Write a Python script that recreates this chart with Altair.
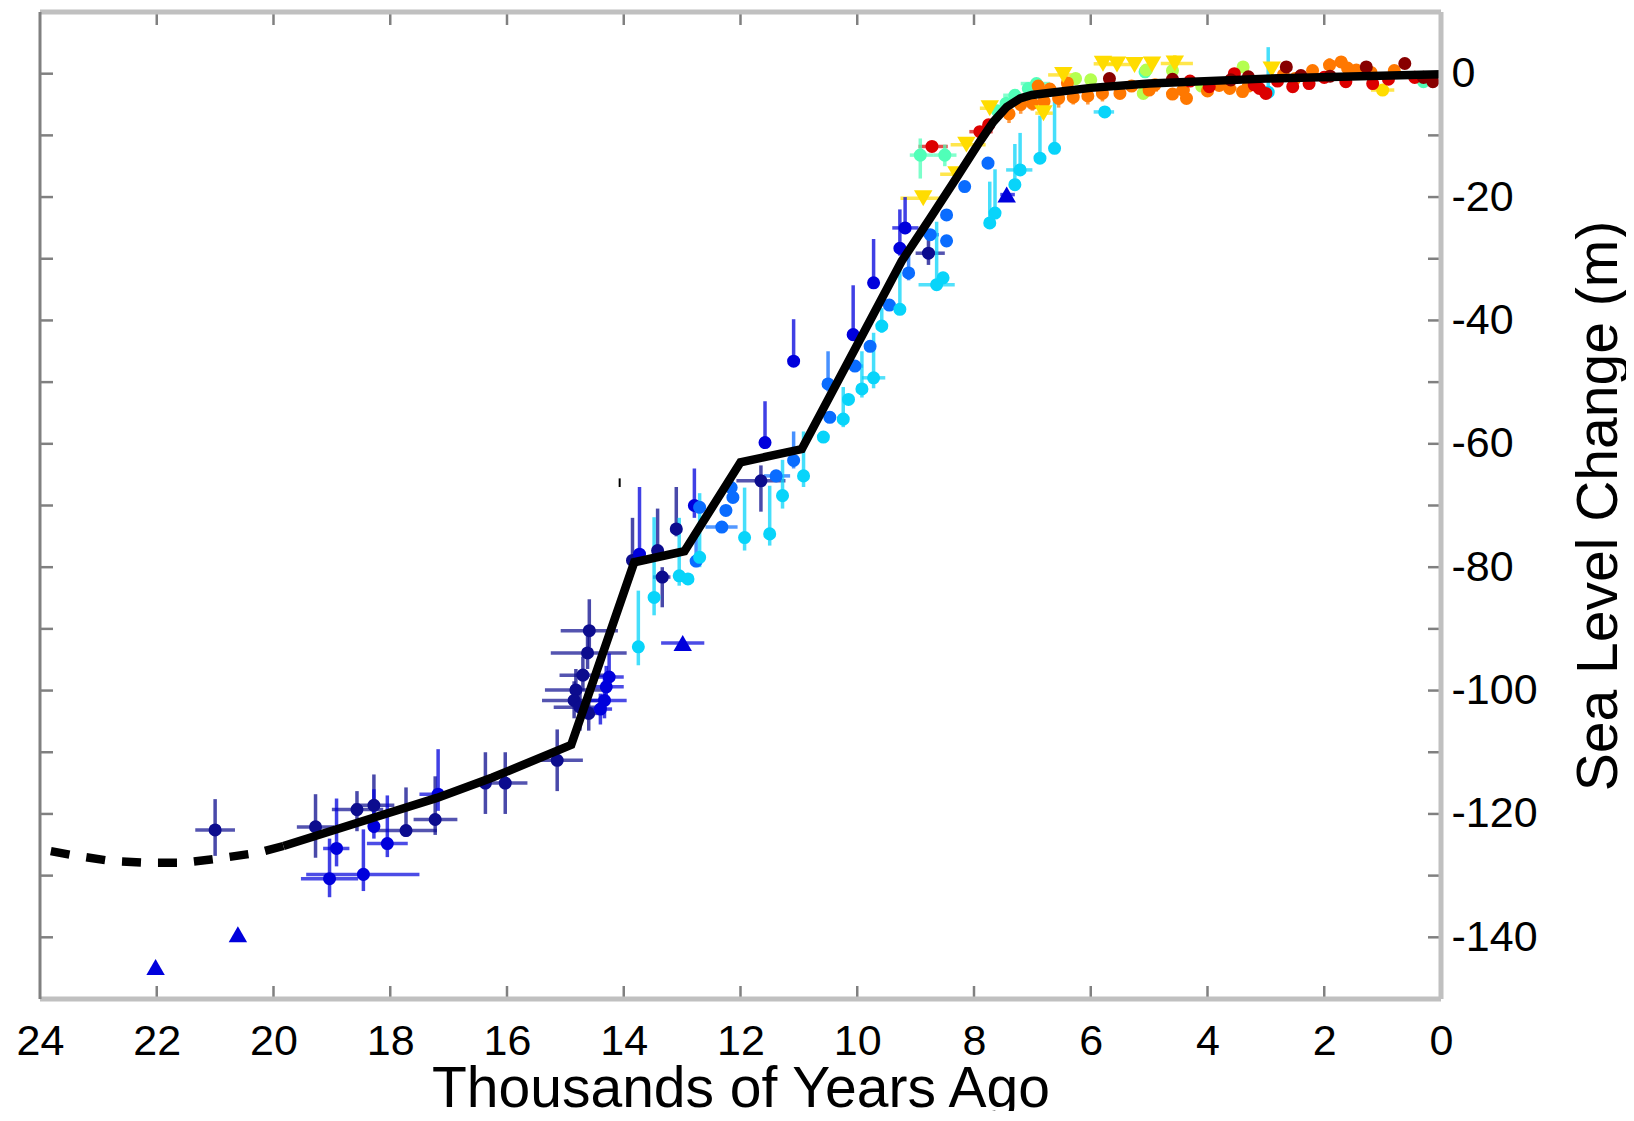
import altair as alt
import pandas as pd

W, H = 1401, 987
FONT = "Liberation Sans"

# ---- black reference curve (thousands of years ago, metres) ----
DASH_T = [24.0, 23.44, 22.8, 22.18, 21.53, 20.92, 20.27, 19.83]
DASH_V = [-125.7, -126.7, -127.6, -127.9, -127.9, -127.2, -126.3, -125.2]
CURVE_T = [19.83, 18.18, 17.2, 16.25, 14.9, 13.82, 12.96, 12.0, 10.95, 9.24, 8.75,
           8.3, 7.9, 7.67, 7.44, 7.21, 7.01, 6.0, 5.0, 3.0, 0.0]
CURVE_V = [-125.2, -120.3, -117.4, -114.1, -108.8, -79.2, -77.4, -63.0, -60.85, -30.4, -23.4,
           -16.9, -11.0, -7.8, -5.4, -4.0, -3.46, -2.3, -1.6, -0.8, -0.1]

# ---- observations: (t, v) or (t, v, t_lo, t_hi, v_lo, v_hi) ----
NAVY = [
    (21.00, -122.6, 20.66, 21.34, -126.8, -117.6),
    (19.28, -122.1, 18.96, 19.60, -127.1, -116.8),
    (18.57, -119.3, 18.12, 19.00, -122.8, -116.3),
    (18.28, -118.6, 17.93, 18.63, -123.1, -113.6),
    (17.73, -122.7, 17.20, 18.28, -123.7, -115.7),
    (17.23, -120.9, 16.85, 17.60, -123.4, -113.9),
    (16.37, -115.0, 16.37, 16.37, -120.0, -110.0),
    (16.03, -115.0, 15.65, 16.41, -120.0, -110.0),
    (15.14, -111.3, 14.70, 15.60, -116.3, -106.3),
    (14.59, -90.3, 14.10, 15.08, -93.0, -85.2),
    (14.62, -93.9, 13.95, 15.25, -96.5, -90.0),
    (14.70, -97.5, 14.30, 15.10, -100.0, -94.5),
    (14.82, -99.9, 14.30, 15.35, -103.0, -96.5),
    (14.85, -101.6, 14.35, 15.40, -104.5, -98.5),
    (14.75, -102.7, 14.30, 15.20, -106.5, -99.5),
    (14.60, -103.7, 14.45, 14.75, -106.5, -100.5),
    (13.85, -78.9, 13.85, 13.85, -80.0, -72.0),
    (13.42, -77.3, 13.42, 13.42, -78.5, -70.5),
    (13.34, -81.6, 13.20, 13.50, -86.5, -80.0),
    (13.10, -73.8, 13.00, 13.20, -75.0, -67.0),
    (11.65, -66.0, 11.23, 12.07, -71.0, -63.5),
    (8.78, -29.1, 8.50, 9.00, -31.0, -26.5),
]
BLUE = [
    (19.04, -130.5, 18.55, 19.53, -133.5, -124.0),
    (18.46, -129.8, 17.50, 19.44, -132.5, -122.5),
    (18.92, -125.6, 18.70, 19.15, -128.5, -117.5),
    (18.28, -122.0, 18.28, 18.28, -124.0, -116.0),
    (18.05, -124.8, 17.70, 18.40, -127.0, -117.0),
    (17.18, -116.8, 16.90, 17.50, -119.5, -109.5),
    (14.30, -99.4, 14.00, 14.55, -102.0, -96.0),
    (14.33, -101.6, 13.95, 14.60, -104.5, -98.0),
    (14.25, -97.8, 14.00, 14.50, -100.0, -94.0),
    (14.40, -103.0, 14.20, 14.60, -105.5, -100.5),
    (13.73, -77.9, 13.73, 13.73, -79.0, -67.0),
    (12.79, -70.0, 12.79, 12.79, -72.0, -64.0),
    (11.58, -59.8, 11.58, 11.58, -60.5, -53.1),
    (11.09, -46.6, 11.09, 11.09, -47.5, -39.8),
    (10.07, -42.3, 10.07, 10.07, -43.0, -34.3),
    (9.72, -33.9, 9.72, 9.72, -34.5, -26.8),
    (9.27, -28.3, 9.27, 9.27, -29.5, -22.0),
    (9.18, -25.0, 8.95, 9.40, -26.0, -20.0),
]
BLUE_TRI = [
    (22.02, -144.8),
    (20.61, -139.5),
    (12.99, -92.3, 12.62, 13.36, -92.3, -92.3),
    (7.44, -19.6, 7.30, 7.55, -19.6, -19.6),
]
AZURE = [
    (12.76, -79.0, 12.76, 12.76, -80.0, -74.0),
    (12.70, -70.3),
    (12.32, -73.5, 12.05, 12.60, -73.5, -73.5),
    (12.25, -70.8),
    (12.16, -67.1),
    (12.13, -68.7),
    (11.39, -65.2, 11.15, 11.60, -65.2, -65.2),
    (11.09, -62.7, 11.09, 11.09, -64.0, -58.0),
    (10.47, -55.7),
    (10.50, -50.3, 10.50, 10.50, -51.5, -45.0),
    (10.04, -47.4, 9.90, 10.20, -47.4, -47.4),
    (9.78, -44.2),
    (9.45, -37.5),
    (9.12, -32.3, 9.12, 9.12, -33.5, -28.0),
    (8.75, -26.1, 8.60, 8.90, -26.1, -26.1),
    (8.47, -27.1),
    (8.47, -22.9),
    (8.16, -18.3),
    (7.76, -14.5),
]
CYAN = [
    (13.75, -92.9, 13.75, 13.75, -95.9, -83.8),
    (13.48, -84.9, 13.48, 13.48, -87.8, -71.9),
    (13.05, -81.4, 13.05, 13.05, -83.0, -72.0),
    (12.90, -81.9),
    (12.70, -78.4, 12.70, 12.70, -80.0, -68.0),
    (11.93, -75.2, 11.93, 11.93, -77.3, -67.1),
    (11.50, -74.6, 11.50, 11.50, -76.5, -66.8),
    (11.28, -68.4, 11.28, 11.28, -70.5, -62.6),
    (10.92, -65.2, 10.92, 10.92, -67.0, -58.0),
    (10.58, -58.9),
    (10.24, -56.0, 10.24, 10.24, -57.3, -50.8),
    (10.15, -52.8),
    (9.92, -51.1, 9.92, 9.92, -52.5, -45.0),
    (9.72, -49.3, 9.52, 9.92, -51.0, -42.0),
    (9.58, -40.9, 9.58, 9.58, -42.0, -38.0),
    (9.27, -38.2, 9.27, 9.27, -39.0, -30.8),
    (8.64, -34.2, 8.33, 8.95, -35.0, -24.0),
    (8.53, -33.1),
    (7.73, -24.2, 7.73, 7.73, -25.0, -17.5),
    (7.64, -22.6, 7.64, 7.64, -23.5, -15.5),
    (7.30, -18.0, 7.30, 7.30, -18.5, -11.4),
    (7.21, -15.6, 7.00, 7.45, -16.5, -9.6),
    (6.87, -13.7, 6.87, 6.87, -14.5, -6.8),
    (6.62, -12.1, 6.62, 6.62, -13.0, -4.5),
    (5.76, -6.2, 5.60, 5.95, -6.2, -6.2),
    (2.96, -3.0, 2.96, 2.96, -3.0, 4.3),
]
AQUA = [
    (8.92, -13.2, 8.70, 9.10, -17.0, -10.5),
    (8.50, -13.2, 8.30, 8.70, -15.0, -11.5),
    (7.60, -6.0),
    (7.45, -4.8),
    (7.30, -3.5, 7.10, 7.50, -3.5, -3.5),
    (7.07, -2.4),
    (6.93, -1.6, 6.70, 7.20, -1.6, -1.6),
    (5.07, 0.3),
    (0.30, -1.3),
]
LIME = [(6.26, -0.8), (6.00, -1.0), (5.05, 0.6), (5.10, -3.2), (4.60, 0.5), (3.39, 1.1), (4.10, -2.0)]
YELLOW_TRI = [
    (8.87, -20.2, 8.49, 9.26, -20.2, -20.2),
    (8.30, -16.3, 8.24, 8.58, -16.3, -16.3),
    (8.13, -11.5, 7.80, 8.40, -11.5, -11.5),
    (7.73, -5.6, 7.55, 7.90, -5.6, -5.6),
    (6.81, -6.4, 6.65, 6.95, -6.4, -6.4),
    (6.47, -0.2, 6.19, 6.73, -0.2, -0.2),
    (5.79, 1.6, 5.60, 5.95, 1.6, 1.6),
    (5.55, 1.5, 5.20, 5.85, 1.5, 1.5),
    (5.25, 1.4),
    (4.95, 1.5),
    (4.56, 1.65, 4.25, 4.80, -0.5, 3.0),
    (2.90, 0.7),
]
YELLOW = [(1.00, -2.65, 0.80, 1.20, -2.65, -2.65)]
ORANGE = [
    (7.40, -6.5, 7.30, 7.50, -8.0, -5.0),
    (7.20, -5.0, 7.10, 7.30, -6.5, -3.5),
    (7.00, -4.8, 6.90, 7.10, -6.0, -3.5),
    (6.90, -2.0),
    (6.80, -4.5, 6.70, 6.90, -6.0, -3.0),
    (6.70, -2.5),
    (6.55, -4.0, 6.45, 6.65, -5.5, -2.5),
    (6.40, -1.5),
    (6.30, -3.8, 6.20, 6.40, -5.0, -2.5),
    (6.05, -3.6, 5.95, 6.15, -5.0, -2.5),
    (5.80, -3.2, 5.70, 5.90, -4.5, -2.0),
    (5.50, -3.2, 5.40, 5.60, -4.0, -2.0),
    (5.30, -2.0),
    (5.00, -2.65, 4.85, 5.15, -3.5, -1.5),
    (4.90, -1.8),
    (4.60, -3.3),
    (4.42, -2.65, 4.30, 4.55, -4.5, -1.5),
    (4.36, -4.0),
    (4.00, -2.8),
    (3.80, -1.9),
    (3.62, -2.4, 3.50, 3.75, -3.2, -1.5),
    (3.40, -2.9),
    (3.30, -2.0),
    (2.70, -0.2),
    (2.50, -0.8),
    (2.20, 0.5),
    (1.91, 1.4, 1.80, 2.00, 0.5, 2.5),
    (1.71, 1.9, 1.60, 1.85, 1.0, 2.8),
    (1.60, 0.9),
    (1.45, 0.6),
    (1.20, 0.2),
    (0.80, 0.5),
]
RED = [
    (8.72, -11.8, 8.45, 8.95, -11.8, -11.8),
    (7.90, -9.4, 7.68, 8.08, -9.4, -9.4),
    (7.75, -8.3),
    (4.30, -1.2),
    (3.97, -2.1),
    (3.54, 0.0),
    (3.20, -1.8),
    (3.11, -2.4),
    (3.00, -3.2),
    (2.80, -1.2),
    (2.54, -2.1),
    (2.26, -1.6),
    (2.00, -0.6),
    (1.63, -1.3),
    (1.17, -1.6),
    (0.90, -0.9),
    (0.45, -0.6),
]
DARKRED = [(5.68, -0.8), (4.60, -0.9), (3.60, -1.0), (3.30, -0.5), (2.65, 1.1), (2.40, -0.3),
           (1.90, -0.4), (1.28, 1.1), (0.62, 1.65), (0.30, -0.6), (0.14, -1.3)]
STRAY = [(14.07, -67.0, -65.6)]

X_TICKS = [22, 20, 18, 16, 14, 12, 10, 8, 6, 4, 2]
X_LABELS = [24, 22, 20, 18, 16, 14, 12, 10, 8, 6, 4, 2, 0]
Y_TICKS = [-140, -130, -120, -110, -100, -90, -80, -70, -60, -50, -40, -30, -20, -10, 0]
Y_LABELS = [-140, -120, -100, -80, -60, -40, -20, 0]

SERIES = [
    ("navy", "#0c0c8e", "circle", NAVY),
    ("blue", "#0000dc", "circle", BLUE),
    ("bluetri", "#0000dc", "triangle-up", BLUE_TRI),
    ("azure", "#0a6cff", "circle", AZURE),
    ("cyan", "#08d4fa", "circle", CYAN),
    ("aqua", "#50ffb8", "circle", AQUA),
    ("lime", "#b4ff50", "circle", LIME),
    ("yellowtri", "#ffdc00", "triangle-down", YELLOW_TRI),
    ("yellow", "#ffdc00", "circle", YELLOW),
    ("orange", "#ff7800", "circle", ORANGE),
    ("red", "#dc0000", "circle", RED),
    ("darkred", "#880000", "circle", DARKRED),
]

rows = []
for name, col, shape, pts in SERIES:
    for p in pts:
        if len(p) == 2:
            t, v = p
            tl, th, vl, vh = t, t, v, v
        else:
            t, v, tl, th, vl, vh = p
        rows.append(dict(series=name, shape=shape, t=t, v=v, tlo=tl, thi=th, vlo=vl, vhi=vh))
obs = pd.DataFrame(rows)

names = [s[0] for s in SERIES]
colors = [s[1] for s in SERIES]
cscale = alt.Scale(domain=names, range=colors)

xscale = alt.Scale(domain=[0, 24], reverse=True, nice=False, zero=False)
yscale = alt.Scale(domain=[-150, 10], nice=False, zero=False)

xaxis = alt.Axis(values=X_LABELS, format="d", ticks=False, tickSize=0, domain=False, grid=False,
                 labelFontSize=43, labelFont=FONT, labelColor="black", labelPadding=21,
                 labelFlush=False, labelOverlap=False,
                 title="Thousands of Years Ago", titleFont=FONT, titleFontSize=57,
                 titleFontWeight="normal", titleColor="black", titleBaseline="alphabetic",
                 titleY=107, titleX=W / 2, titleAlign="center")
yaxis = alt.Axis(orient="right", values=Y_LABELS, format="d", ticks=False, tickSize=0, domain=False,
                 grid=False, labelFontSize=43, labelFont=FONT, labelColor="black", labelPadding=10,
                 labelFlush=False, labelOverlap=False, labelBaseline="middle",
                 labelExpr="'' + datum.value",
                 title="Sea Level Change (m)", titleFont=FONT, titleFontSize=57,
                 titleFontWeight="normal", titleColor="black", titleAngle=270,
                 titleX=158, titleY=H / 2, titleAlign="center", titleBaseline="middle")


def X(field):
    return alt.X(field, type="quantitative", scale=xscale, axis=xaxis)


def Y(field):
    return alt.Y(field, type="quantitative", scale=yscale, axis=yaxis)


color = alt.Color("series:N", scale=cscale, legend=None)

base = alt.Chart(obs)
hbars = base.transform_filter("datum.tlo != datum.thi").mark_rule(strokeWidth=3.5, opacity=0.7).encode(
    x=X("tlo"), x2="thi", y=Y("v"), color=color)
vbars = base.transform_filter("datum.vlo != datum.vhi").mark_rule(strokeWidth=3.5, opacity=0.75).encode(
    x=X("t"), y=Y("vlo"), y2="vhi", color=color)
circles = base.transform_filter("datum.shape == 'circle'").mark_point(
    shape="circle", filled=True, opacity=1, size=170).encode(x=X("t"), y=Y("v"), color=color)
tri_up = base.transform_filter("datum.shape == 'triangle-up'").mark_point(
    shape="triangle-up", filled=True, opacity=1, size=340).encode(x=X("t"), y=Y("v"), color=color)
tri_down = base.transform_filter("datum.shape == 'triangle-down'").mark_point(
    shape="triangle-down", filled=True, opacity=1, size=340).encode(x=X("t"), y=Y("v"), color=color)

stray = alt.Chart(pd.DataFrame(STRAY, columns=["t", "a", "b"])).mark_rule(
    color="black", strokeWidth=2).encode(x=X("t"), y=Y("a"), y2="b")

dash = alt.Chart(pd.DataFrame({"t": DASH_T, "v": DASH_V})).mark_line(
    color="black", strokeWidth=8.5, strokeDash=[19, 17]).encode(x=X("t"), y=Y("v"), order="t:Q")
curve = alt.Chart(pd.DataFrame({"t": CURVE_T, "v": CURVE_V, "i": list(range(len(CURVE_T)))})).mark_line(
    color="black", strokeWidth=8.5, strokeJoin="miter").encode(x=X("t"), y=Y("v"), order="i:Q")

TICK = 13
tick_col = "#808080"
xt = alt.Chart(pd.DataFrame({"t": X_TICKS}))
xt_bottom = xt.mark_rule(color=tick_col, strokeWidth=2.5).encode(
    x=X("t"), y=alt.value(H), y2=alt.value(H - TICK))
xt_top = xt.mark_rule(color=tick_col, strokeWidth=2.5).encode(
    x=X("t"), y=alt.value(0), y2=alt.value(TICK))
yt = alt.Chart(pd.DataFrame({"v": Y_TICKS}))
yt_left = yt.mark_rule(color=tick_col, strokeWidth=2.5).encode(
    y=Y("v"), x=alt.value(0), x2=alt.value(TICK))
yt_right = yt.mark_rule(color=tick_col, strokeWidth=2.5).encode(
    y=Y("v"), x=alt.value(W), x2=alt.value(W - TICK))

one = alt.Chart(pd.DataFrame({"a": [0]}))
frame_col = "#c0c0c0"
f_top = one.mark_rule(color=frame_col, strokeWidth=5).encode(x=alt.value(0), x2=alt.value(W), y=alt.value(0))
f_bot = one.mark_rule(color=frame_col, strokeWidth=5).encode(x=alt.value(0), x2=alt.value(W), y=alt.value(H))
f_right = one.mark_rule(color=frame_col, strokeWidth=5).encode(x=alt.value(W), y=alt.value(0), y2=alt.value(H))
f_left = one.mark_rule(color="#808080", strokeWidth=3).encode(x=alt.value(0), y=alt.value(0), y2=alt.value(H))

chart = alt.layer(
    xt_bottom, xt_top, yt_left, yt_right,
    hbars, vbars, circles, tri_up, tri_down, stray,
    dash, curve,
    f_top, f_bot, f_right, f_left,
).properties(
    width=W, height=H,
    autosize=alt.AutoSizeParams(type="none"),
    padding={"left": 32, "top": 4, "right": 185, "bottom": 112},
    background="white",
).configure_view(strokeWidth=0)

chart.save("out.html", embed_options={"renderer": "svg", "actions": False})
